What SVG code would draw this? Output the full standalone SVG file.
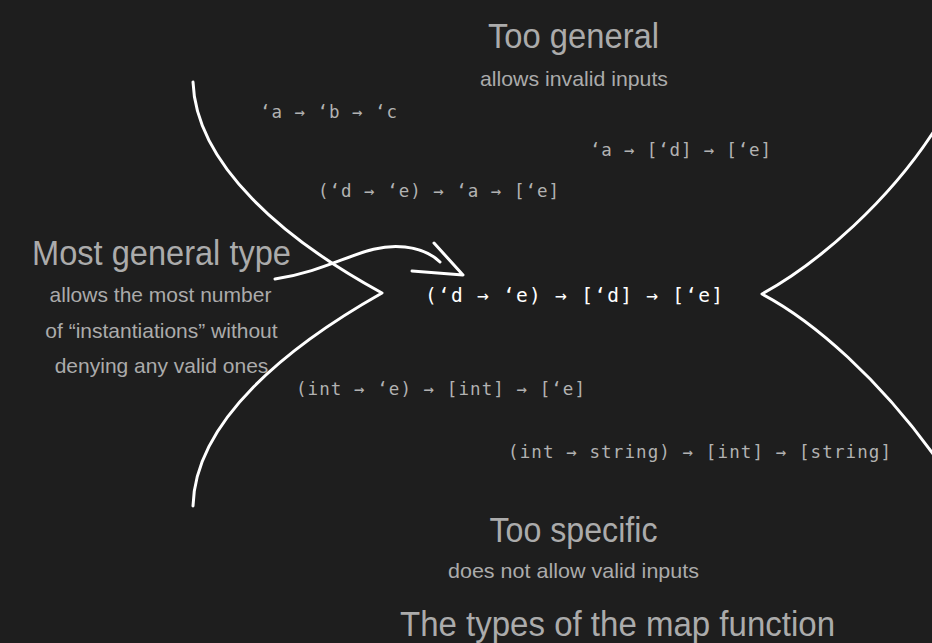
<svg xmlns="http://www.w3.org/2000/svg" width="932" height="643" viewBox="0 0 932 643">
<style>
.title{font-family:"Liberation Sans",Arial,sans-serif;font-size:35px;fill:#ababab;text-anchor:middle}
.sub{font-family:"Liberation Sans",Arial,sans-serif;font-size:21px;fill:#ababab;text-anchor:middle}
.code{font-family:"DejaVu Sans Mono","Liberation Mono",monospace;font-size:17.5px;fill:#b2b2b2}
.main{font-family:"DejaVu Sans Mono","Liberation Mono",monospace;font-size:19.5px;fill:#ffffff}
.stroke{fill:none;stroke:#ffffff;stroke-width:3;stroke-linecap:round;stroke-linejoin:round}
</style>
<rect width="932" height="643" fill="#1e1e1e"/>
<g id="labels">
<text class="title" x="573.5" y="48" textLength="171" lengthAdjust="spacingAndGlyphs">Too general</text>
<text class="sub" x="574" y="86" textLength="188" lengthAdjust="spacingAndGlyphs">allows invalid inputs</text>
<text class="title" x="161.5" y="265" textLength="259" lengthAdjust="spacingAndGlyphs">Most general type</text>
<text class="sub" x="160.5" y="302">allows the most number</text>
<text class="sub" x="161.5" y="338">of “instantiations” without</text>
<text class="sub" x="161.5" y="373">denying any valid ones</text>
<text class="title" x="573.5" y="542" textLength="168" lengthAdjust="spacingAndGlyphs">Too specific</text>
<text class="sub" x="573.5" y="578" textLength="251" lengthAdjust="spacingAndGlyphs">does not allow valid inputs</text>
<text class="title" x="617.5" y="636" font-size="33" textLength="435" lengthAdjust="spacingAndGlyphs">The types of the map function</text>
</g>
<g id="types">
<text id="t1" class="code" x="260" y="118" textLength="137" lengthAdjust="spacing">‘a → ‘b → ‘c</text>
<text id="t2" class="code" x="590" y="156" textLength="181" lengthAdjust="spacing">‘a → [‘d] → [‘e]</text>
<text id="t3" class="code" x="318" y="197" textLength="241" lengthAdjust="spacing">(‘d → ‘e) → ‘a → [‘e]</text>
<text id="t4" class="main" x="425" y="302" textLength="298" lengthAdjust="spacing">(‘d → ‘e) → [‘d] → [‘e]</text>
<text id="t5" class="code" x="296" y="395" textLength="289" lengthAdjust="spacing">(int → ‘e) → [int] → [‘e]</text>
<text id="t6" class="code" x="508" y="458" textLength="383" lengthAdjust="spacing">(int → string) → [int] → [string]</text>
</g>
<g id="connectors">
<path id="left-bracket" class="stroke" d="M193,82 C196,165 285,240 382,293 C290,345 195,420 193,506"/>
<path id="right-bracket" class="stroke" d="M936,128 C890,200 820,262 762,294 C815,322 880,380 936,458"/>
<path id="arrow" class="stroke" d="M275,279 C335,270 365,242 405,247 C422,249 433,255 440,262"/>
<path id="arrowhead" class="stroke" d="M434,243 L463,275 L412,271"/>
</g>
</svg>
